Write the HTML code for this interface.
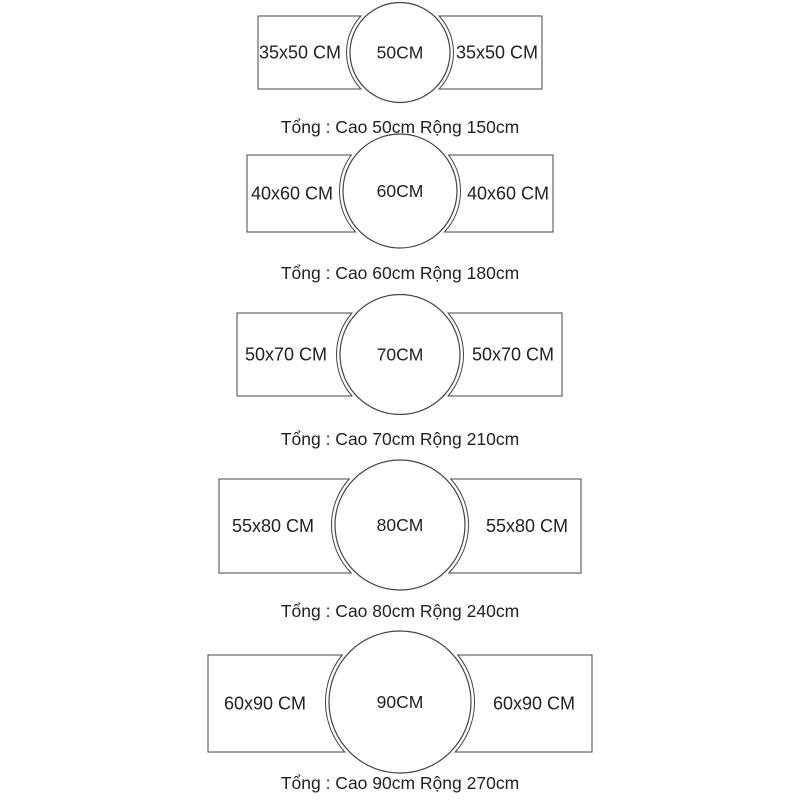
<!DOCTYPE html>
<html><head><meta charset="utf-8"><style>
html,body{margin:0;padding:0;background:#fff}
svg text{font-family:"Liberation Sans",sans-serif;fill:#222}
</style></head><body>
<svg id="s" width="800" height="800" xmlns="http://www.w3.org/2000/svg"></svg>
<script>
const rows=[
 {cy:52.5,r:50,x0:258,x1:542,y1:16,y2:89,a:"35x50 CM",c:"50CM",t:"Tổng : Cao 50cm Rộng 150cm",ty:133,lx:300,rx:497},
 {cy:191,r:57,x0:247,x1:553,y1:155,y2:232,a:"40x60 CM",c:"60CM",t:"Tổng : Cao 60cm Rộng 180cm",ty:279,lx:292,rx:508},
 {cy:354.5,r:60,x0:237,x1:562,y1:313,y2:396,a:"50x70 CM",c:"70CM",t:"Tổng : Cao 70cm Rộng 210cm",ty:445,lx:286,rx:513},
 {cy:525,r:65,x0:219,x1:581,y1:479,y2:573,a:"55x80 CM",c:"80CM",t:"Tổng : Cao 80cm Rộng 240cm",ty:617,lx:273,rx:527},
 {cy:702,r:71,x0:208,x1:592,y1:655,y2:752,a:"60x90 CM",c:"90CM",t:"Tổng : Cao 90cm Rộng 270cm",ty:789,lx:265,rx:534}
];
let h="";
for(const o of rows){
 const R=o.r+3.5,cx=400;
 const d1=Math.sqrt(R*R-(o.y1-o.cy)**2),d2=Math.sqrt(R*R-(o.y2-o.cy)**2);
 h+=`<path d="M${o.x0},${o.y1}L${cx-d1},${o.y1}A${R},${R} 0 0 0 ${cx-d2},${o.y2}L${o.x0},${o.y2}Z" fill="none" stroke="#444" stroke-width="1"/>`;
 h+=`<path d="M${o.x1},${o.y1}L${cx+d1},${o.y1}A${R},${R} 0 0 1 ${cx+d2},${o.y2}L${o.x1},${o.y2}Z" fill="none" stroke="#444" stroke-width="1"/>`;
 h+=`<circle cx="${cx}" cy="${o.cy}" r="${o.r}" fill="#fff" stroke="#444" stroke-width="1.2"/>`;
 const my=(o.y1+o.y2)/2+6;
 h+=`<text x="${o.lx}" y="${my}" font-size="18" text-anchor="middle">${o.a}</text>`;
 h+=`<text x="${o.rx}" y="${my}" font-size="18" text-anchor="middle">${o.a}</text>`;
 h+=`<text x="400" y="${o.cy+6}" font-size="17.5" text-anchor="middle">${o.c}</text>`;
 h+=`<text x="400" y="${o.ty}" font-size="17.5" text-anchor="middle">${o.t}</text>`;
}
document.getElementById("s").innerHTML=h;
</script>
</body></html>
